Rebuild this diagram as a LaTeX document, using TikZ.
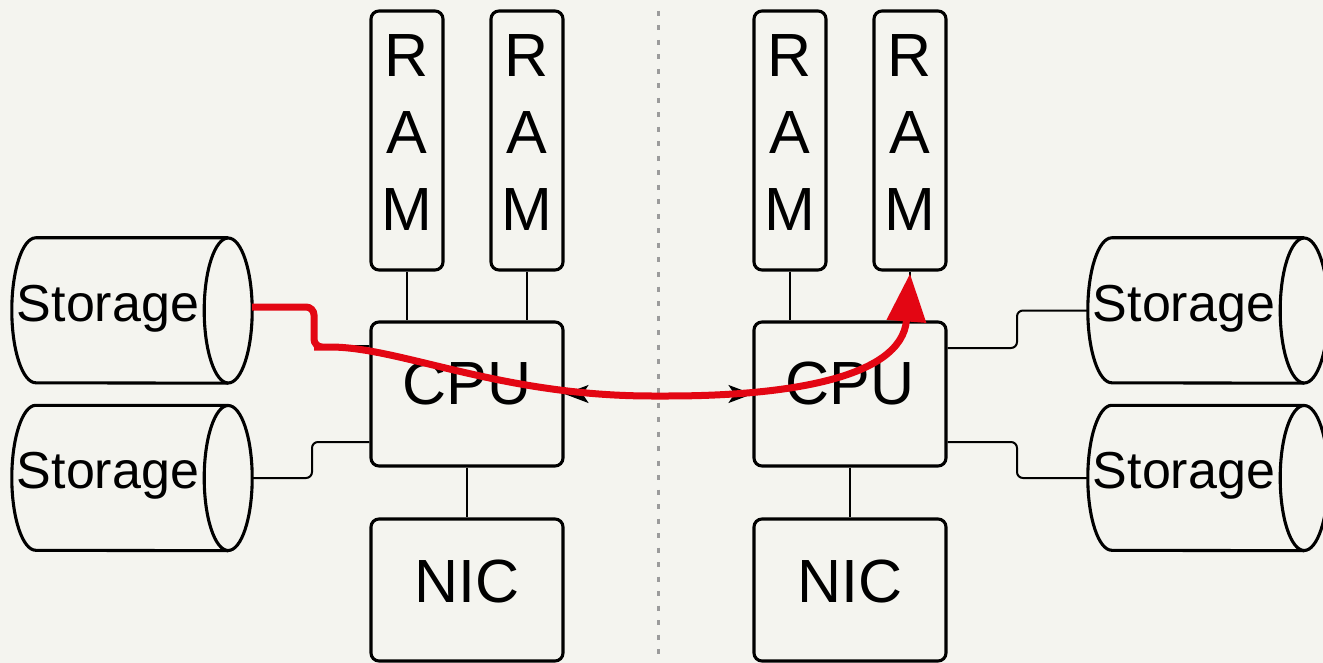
\documentclass[tikz,border=0pt]{standalone}
\usepackage{fontspec}
\setmainfont{Liberation Sans}
\usetikzlibrary{arrows.meta}
\definecolor{bgc}{HTML}{F4F4EF}
\definecolor{arrred}{HTML}{E30613}
\definecolor{dotgray}{HTML}{9B9B9B}
\begin{document}
\begin{tikzpicture}[x=1pt,y=-1pt,
  box/.style={draw, line width=3.1pt, rounded corners=8pt, inner sep=0pt,
    font=\fontsize{61}{77}\selectfont},
  ram/.style={box, minimum width=72pt, minimum height=259pt, align=center, text depth=15pt},
  cpu/.style={box, minimum width=192pt, minimum height=144pt, text depth=22pt},
  nic/.style={box, minimum width=192pt, minimum height=142pt, text depth=18pt},
  stor/.style={inner sep=0pt, minimum width=240pt, minimum height=145pt,
    font=\fontsize{52}{62}\selectfont, text depth=15pt},
  cyl/.style={line width=3.1pt},
  conn/.style={line width=2pt},
  sep/.style={dotgray, line width=3pt, dash pattern=on 5pt off 9.5pt},
  redline/.style={arrred, line width=7pt}
]
\useasboundingbox (0,0) rectangle (1323,663);
\fill[bgc] (0,0) rectangle (1323,663);
\clip (0,0) rectangle (1323,663);

% separator
\coordinate (dtop) at (658,11);
\coordinate (dbot) at (658,663);
\draw[sep] (dtop) -- (dbot);

% left machine
\node[ram] (ramL1) at (407,140.5) {R\\A\\M};
\node[ram] (ramL2) at (527,140.5) {R\\A\\M};
\node[cpu] (cpuL) at (467,394) {CPU};
\node[nic] (nicL) at (467,590) {NIC};
\node[stor] (sL1) at (132,310.5) {Storage\rule{48pt}{0pt}};
\node[stor] (sL2) at (132,478) {Storage\rule{48pt}{0pt}};

% right machine
\node[ram] (ramR1) at (790,140.5) {R\\A\\M};
\node[ram] (ramR2) at (910,140.5) {R\\A\\M};
\node[cpu] (cpuR) at (850,394) {CPU};
\node[nic] (nicR) at (850,590) {NIC};
\node[stor] (sR1) at (1208,310.5) {Storage\rule{48pt}{0pt}};
\node[stor] (sR2) at (1208,478) {Storage\rule{48pt}{0pt}};

% cylinders
\foreach \n in {sL1,sL2,sR1,sR2}{
  \draw[cyl] ([xshift=-24pt]\n.north east) -- ([xshift=24pt]\n.north west)
    arc[start angle=90, end angle=270, x radius=24pt, y radius=72.5pt]
    -- ([xshift=-24pt]\n.south east);
  \draw[cyl] ([xshift=-24pt]\n.east) ellipse [x radius=24pt, y radius=72.5pt];
}

% connectors
\foreach \r/\c in {ramL1/cpuL,ramL2/cpuL,ramR1/cpuR,ramR2/cpuR}{
  \draw[conn] (\r.south) -- (\r.south |- \c.north);
}
\draw[conn] (cpuL.south) -- (nicL.north);
\draw[conn] (cpuR.south) -- (nicR.north);

\coordinate (jL1) at (312,346);
\coordinate (jL2) at (312,442);
\coordinate (jR1) at (1017,310.5);
\coordinate (jR2) at (1017,478);
\draw[conn, rounded corners=6pt] ([yshift=3.5pt]sL1.east) -| (jL1) -- ([yshift=48pt]cpuL.west);
\draw[conn, rounded corners=6pt] (sL2.east) -| (jL2) -- ([yshift=-48pt]cpuL.west);
\draw[conn, rounded corners=6pt] ([yshift=46pt]cpuR.east) -| (jR1) -- (sR1.west);
\draw[conn, rounded corners=6pt] ([yshift=-48pt]cpuR.east) -| (jR2) -- (sR2.west);

\draw[conn, {Stealth[length=24pt,width=18pt,inset=6pt]}-{Stealth[length=24pt,width=18pt,inset=6pt]}]
  (cpuL.east) -- (cpuR.west);

% red flow
\draw[redline, rounded corners=8pt, -{Triangle[length=48pt,width=38pt]}]
  ([yshift=3.5pt]sL1.east) -- (314,307) -- (314,347) -- (322,347)
  .. controls (400,347) and (500,396) .. (660,396)
  .. controls (780,396) and (902,380) .. ([yshift=-2pt]ramR2.south);
\end{tikzpicture}
\end{document}
